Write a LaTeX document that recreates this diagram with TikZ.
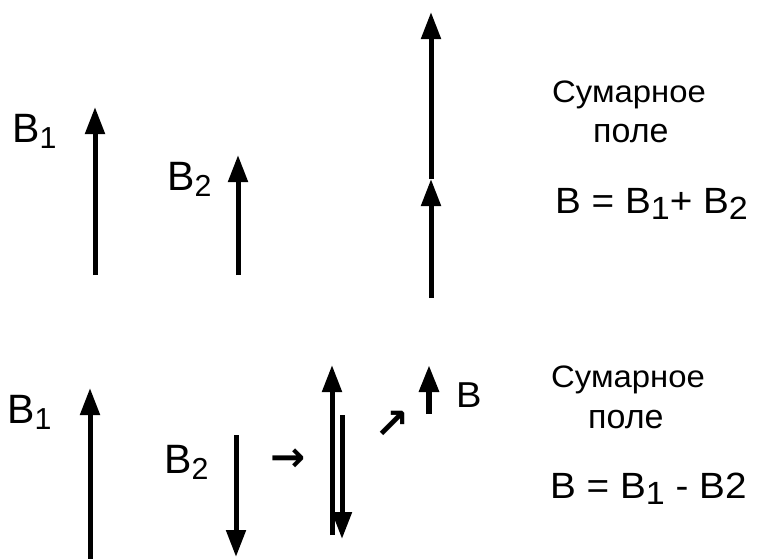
\documentclass[tikz,border=0pt]{standalone}
\usepackage{fontspec}
\usepackage{graphicx}
\usetikzlibrary{arrows.meta}
\newfontfamily\af{Liberation Sans}
\newfontfamily\afw[FakeStretch=1.06]{Liberation Sans}
\newfontfamily\afm[FakeStretch=1.06]{Liberation Sans}
\newfontfamily\djvfont{DejaVu Sans Bold}
\newcommand\mysub[1]{\raisebox{-0.15em}{\scalebox{0.74}{#1}}}
\newcommand\fsub[1]{\raisebox{-0.17em}{\scalebox{0.88}{#1}}}
\tikzset{
  vec/.style={line width=5pt,-{Triangle[length=27pt,width=19pt]}},
  lbl/.style={inner sep=0pt,anchor=base west},
  biglbl/.style={lbl,font=\af\fontsize{41}{45}\selectfont},
  captxt/.style={lbl,font=\afw\fontsize{31}{35}\selectfont},
  poletxt/.style={lbl,font=\af\fontsize{34}{38}\selectfont},
  frm/.style={lbl,font=\afm\fontsize{36.5}{41}\selectfont},
  sym/.style={inner sep=0pt,font=\djvfont\fontsize{42}{46}\selectfont}
}
\begin{document}
\begin{tikzpicture}[x=1pt,y=-1pt]
\fill[white] (0,0) rectangle (757,558);
\useasboundingbox (0,0) rectangle (757,558);
% ---------- top row ----------
\node[biglbl] (b1t) at (12,142) {B\mysub{1}};
\coordinate (a1s) at (95,275); \coordinate (a1e) at (95,107);
\draw[vec] (a1s) -- (a1e);
\node[biglbl] (b2t) at (167,190) {B\mysub{2}};
\coordinate (a2s) at (238,275); \coordinate (a2e) at (238,155);
\draw[vec] (a2s) -- (a2e);
\coordinate (a3s) at (431,298); \coordinate (a3m) at (431,179); \coordinate (a3e) at (431,12);
\draw[vec] (a3s) -- (a3m);
\draw[vec] (a3m) -- (a3e);
\node[captxt] (s1) at (552,102) {Сумарное};
\node[poletxt] (p1) at (593,142) {поле};
\node[frm] (f1) at (555,213) {B = B\fsub{1}+ B\fsub{2}};
% ---------- bottom row ----------
\node[biglbl] (b1b) at (7,423) {B\mysub{1}};
\coordinate (c1s) at (90,575); \coordinate (c1e) at (90,388);
\draw[vec] (c1s) -- (c1e);
\node[biglbl] (b2b) at (164,473) {B\mysub{2}};
\coordinate (c2s) at (236,435); \coordinate (c2e) at (236,557);
\draw[vec] (c2s) -- (c2e);
\node[sym] (ra) at (288,460) {→};
\coordinate (d1s) at (332,535); \coordinate (d1e) at (332,365);
\draw[vec] (d1s) -- (d1e);
\coordinate (d2s) at (342,415); \coordinate (d2e) at (342,539);
\draw[vec] (d2s) -- (d2e);
\node[sym] (ne) at (392,425) {↗};
\coordinate (rs) at (429,414); \coordinate (re) at (429,365);
\draw[vec,line width=6pt] (rs) -- (re);
\node[lbl,font=\afm\fontsize{36}{40}\selectfont] (bb) at (456,407) {B};
\node[captxt] (s2) at (551,387) {Сумарное};
\node[poletxt] (p2) at (588,428) {поле};
\node[frm] (f2) at (550,498) {B = B\fsub{1} - B2};
\end{tikzpicture}
\end{document}
